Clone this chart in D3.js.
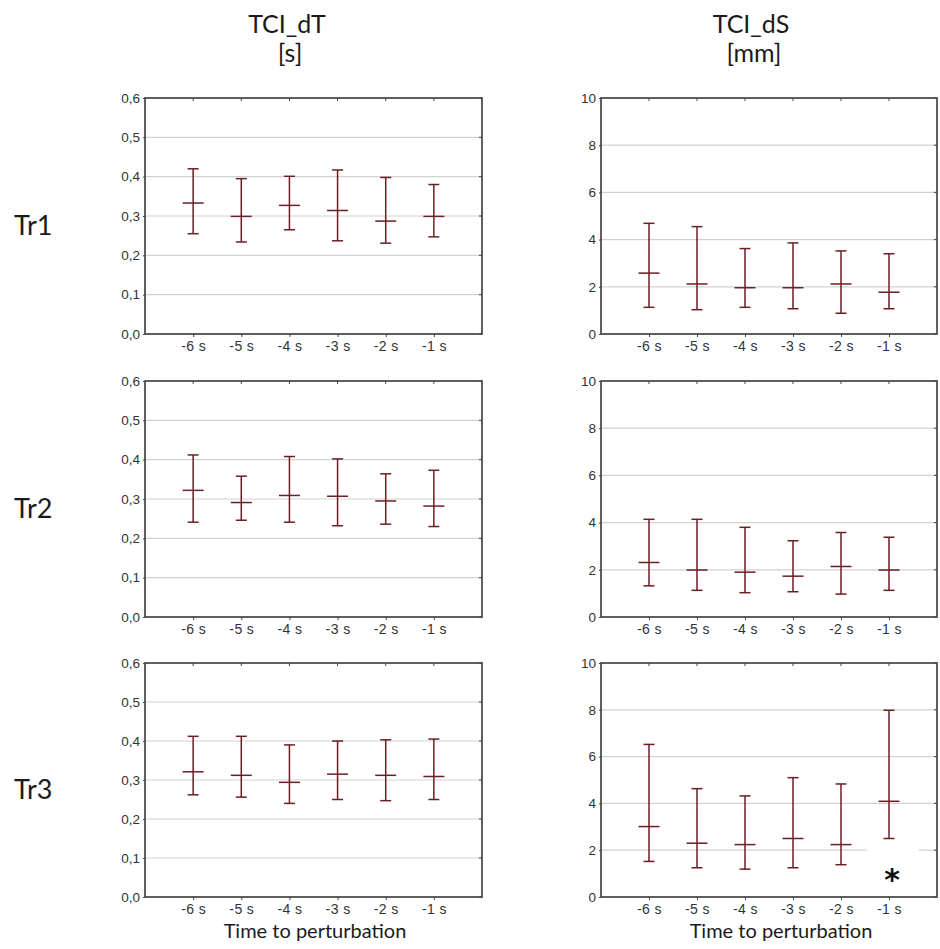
<!DOCTYPE html>
<html>
<head>
<meta charset="utf-8">
<script src="https://cdn.jsdelivr.net/npm/d3@7"></script>
<style>
  html, body { margin: 0; padding: 0; background: #fff; }
  svg { display: block; }
</style>
</head>
<body>
<svg id="chart" width="940" height="949"></svg>
<script>
// Time points before the perturbation (x categories)
const categories = ["-6 s", "-5 s", "-4 s", "-3 s", "-2 s", "-1 s"];
const trials = ["Tr1", "Tr2", "Tr3"];

// Y axis ticks for each measure
const dtTicks = [0, 0.1, 0.2, 0.3, 0.4, 0.5, 0.6];
const dsTicks = [0, 2, 4, 6, 8, 10];

// TCI_dT [s]: mean with lower / upper whisker
const dtMeanTr1 = [0.333, 0.299, 0.327, 0.314, 0.287, 0.299];
const dtLowTr1  = [0.255, 0.234, 0.265, 0.237, 0.231, 0.247];
const dtHighTr1 = [0.420, 0.395, 0.401, 0.417, 0.398, 0.380];

const dtMeanTr2 = [0.322, 0.291, 0.309, 0.307, 0.295, 0.282];
const dtLowTr2  = [0.241, 0.246, 0.241, 0.232, 0.236, 0.230];
const dtHighTr2 = [0.412, 0.358, 0.408, 0.402, 0.364, 0.373];

const dtMeanTr3 = [0.321, 0.312, 0.294, 0.315, 0.312, 0.309];
const dtLowTr3  = [0.262, 0.256, 0.240, 0.250, 0.247, 0.250];
const dtHighTr3 = [0.412, 0.412, 0.390, 0.400, 0.403, 0.405];

// TCI_dS [mm]: mean with lower / upper whisker
const dsMeanTr1 = [2.58, 2.12, 1.96, 1.96, 2.12, 1.77];
const dsLowTr1  = [1.13, 1.03, 1.13, 1.07, 0.88, 1.07];
const dsHighTr1 = [4.69, 4.55, 3.62, 3.86, 3.52, 3.40];

const dsMeanTr2 = [2.31, 1.99, 1.90, 1.73, 2.14, 1.99];
const dsLowTr2  = [1.32, 1.13, 1.03, 1.07, 0.97, 1.13];
const dsHighTr2 = [4.14, 4.14, 3.80, 3.23, 3.58, 3.38];

const dsMeanTr3 = [3.01, 2.30, 2.24, 2.50, 2.24, 4.09];
const dsLowTr3  = [1.52, 1.25, 1.19, 1.25, 1.38, 2.50];
const dsHighTr3 = [6.52, 4.63, 4.32, 5.10, 4.83, 7.98];

// Significance marker (TCI_dS, Tr3, -1 s)
const markerCategory = "-1 s";
const markerValue = 1.0;

const svg = d3.select("#chart");
const barColor = "#6a1f24";
const frameColor = "#444";
const gridColor = "#d2d2d2";
const tickFont = "'Liberation Sans', Arial, sans-serif";
const titleFont = "Lato, 'Open Sans', sans-serif";

const columns = [
  { x0: 145, x1: 482, ticks: dtTicks, domain: [0, 0.6], fmt: d => d3.format(".1f")(d).replace(".", ","),
    title: "TCI_dT", unit: "[s]", titleX: 287, axisTitleX: 315,
    mean: [dtMeanTr1, dtMeanTr2, dtMeanTr3], low: [dtLowTr1, dtLowTr2, dtLowTr3], high: [dtHighTr1, dtHighTr2, dtHighTr3] },
  { x0: 601, x1: 937, ticks: dsTicks, domain: [0, 10], fmt: d => String(d),
    title: "TCI_dS", unit: "[mm]", titleX: 751, axisTitleX: 781,
    mean: [dsMeanTr1, dsMeanTr2, dsMeanTr3], low: [dsLowTr1, dsLowTr2, dsLowTr3], high: [dsHighTr1, dsHighTr2, dsHighTr3] }
];
const rowsY = [[98, 334], [381, 617], [663, 897]];

// Column titles
columns.forEach(c => {
  svg.append("text").attr("x", c.titleX).attr("y", 33).attr("text-anchor", "middle")
    .attr("font-family", titleFont).attr("font-size", 25).attr("fill", "#1a1a1a").text(c.title);
  svg.append("text").attr("x", c.titleX + 3).attr("y", 62).attr("text-anchor", "middle")
    .attr("font-family", titleFont).attr("font-size", 25).attr("fill", "#1a1a1a").text(c.unit);
});

// Row labels
trials.forEach((t, r) => {
  const mid = (rowsY[r][0] + rowsY[r][1]) / 2;
  svg.append("text").attr("x", 14).attr("y", mid + 19).attr("font-family", titleFont)
    .attr("font-size", 27).attr("fill", "#1a1a1a").text(t);
});

columns.forEach((c, ci) => {
  rowsY.forEach(([y0, y1], r) => {
    const x = d3.scalePoint().domain(categories).range([c.x0, c.x1]).padding(1);
    const y = d3.scaleLinear().domain(c.domain).range([y1, y0]);
    const g = svg.append("g");

    // horizontal gridlines
    g.selectAll("line.grid").data(c.ticks.slice(1, -1)).join("line")
      .attr("x1", c.x0).attr("x2", c.x1).attr("y1", d => y(d)).attr("y2", d => y(d))
      .attr("stroke", gridColor).attr("stroke-width", 1.2);

    // left axis with labels
    const yAxis = g.append("g").attr("transform", `translate(${c.x0},0)`)
      .call(d3.axisLeft(y).tickValues(c.ticks).tickFormat(c.fmt).tickSize(2).tickPadding(3));
    yAxis.select(".domain").remove();
    yAxis.selectAll("line").attr("stroke", frameColor);
    yAxis.selectAll("text").attr("font-family", tickFont).attr("font-size", 13.5).attr("fill", "#333");

    // bottom axis with category labels
    const xAxis = g.append("g").attr("transform", `translate(0,${y1})`)
      .call(d3.axisBottom(x).tickSize(3).tickPadding(4));
    xAxis.select(".domain").remove();
    xAxis.selectAll("line").attr("stroke", frameColor);
    xAxis.selectAll("text").attr("font-family", tickFont).attr("font-size", 14).attr("fill", "#333")
      .attr("letter-spacing", 0.4);

    // inner ticks on top and right borders
    g.selectAll("line.ttop").data(categories).join("line")
      .attr("x1", d => x(d)).attr("x2", d => x(d)).attr("y1", y0).attr("y2", y0 + 3)
      .attr("stroke", frameColor);
    g.selectAll("line.tright").data(c.ticks).join("line")
      .attr("x1", c.x1).attr("x2", c.x1 - 3).attr("y1", d => y(d)).attr("y2", d => y(d))
      .attr("stroke", frameColor);

    // frame
    g.append("rect").attr("x", c.x0).attr("y", y0).attr("width", c.x1 - c.x0).attr("height", y1 - y0)
      .attr("fill", "none").attr("stroke", frameColor).attr("stroke-width", 1.7);

    // significance marker background and asterisk
    if (ci === 1 && r === 2) {
      const mx = x(markerCategory);
      g.append("rect").attr("x", mx - 22).attr("y", y(2) - 6).attr("width", 52).attr("height", 40)
        .attr("fill", "#fff");
      g.append("text").attr("x", mx + 3).attr("y", y(markerValue) + 16).attr("text-anchor", "middle")
        .attr("font-family", "'DejaVu Sans', sans-serif").attr("font-weight", "bold")
        .attr("font-size", 30).attr("fill", "#111").text("*");
    }

    // error bars
    const data = categories.map((cat, i) => ({ cat, m: c.mean[r][i], lo: c.low[r][i], hi: c.high[r][i] }));
    const bars = g.selectAll("g.bar").data(data).join("g").attr("class", "bar");
    bars.append("line").attr("x1", d => x(d.cat)).attr("x2", d => x(d.cat))
      .attr("y1", d => y(d.lo)).attr("y2", d => y(d.hi)).attr("stroke", barColor).attr("stroke-width", 1.5);
    bars.append("line").attr("x1", d => x(d.cat) - 5.5).attr("x2", d => x(d.cat) + 5.5)
      .attr("y1", d => y(d.hi)).attr("y2", d => y(d.hi)).attr("stroke", barColor).attr("stroke-width", 1.5);
    bars.append("line").attr("x1", d => x(d.cat) - 5.5).attr("x2", d => x(d.cat) + 5.5)
      .attr("y1", d => y(d.lo)).attr("y2", d => y(d.lo)).attr("stroke", barColor).attr("stroke-width", 1.5);
    bars.append("line").attr("x1", d => x(d.cat) - 10.5).attr("x2", d => x(d.cat) + 10.5)
      .attr("y1", d => y(d.m)).attr("y2", d => y(d.m)).attr("stroke", barColor).attr("stroke-width", 1.5);

    // axis title under bottom row
    if (r === 2) {
      svg.append("text").attr("x", c.axisTitleX).attr("y", 938).attr("text-anchor", "middle")
        .attr("font-family", titleFont).attr("font-size", 20).attr("fill", "#1a1a1a").text("Time to perturbation");
    }
  });
});
</script>
</body>
</html>
